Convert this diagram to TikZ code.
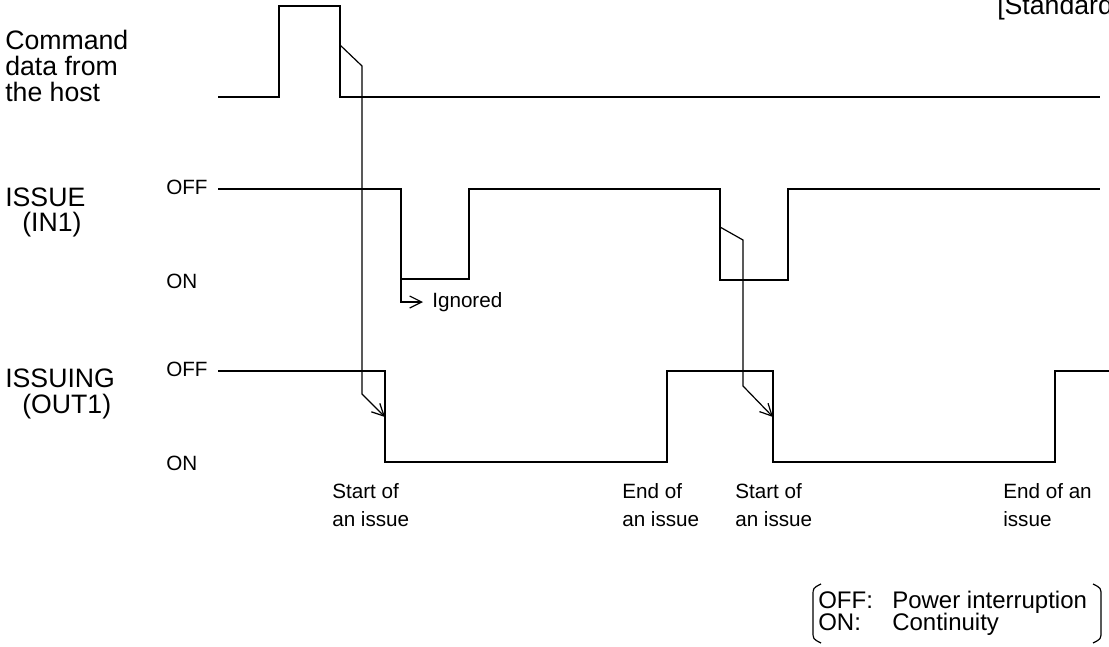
\documentclass[tikz,border=0pt]{standalone}
\usepackage{fontspec}
\setmainfont{Liberation Sans}
\usetikzlibrary{arrows.meta}

\begin{document}
\begin{tikzpicture}[x=0.75pt,y=-0.75pt,
	wave/.style={line width=1.5pt},
	flow/.style={line width=0.9pt,line join=miter,-{Straight Barb[length=9pt,width=9pt,line width=0.9pt]}},
	biglbl/.style={font=\fontsize{20}{19.5}\selectfont,inner sep=0pt,anchor=base west},
	lvl/.style={font=\fontsize{15.5}{18}\selectfont,inner sep=0pt,anchor=base west},
	note/.style={font=\fontsize{15.5}{21}\selectfont,inner sep=0pt,anchor=base west,align=left},
	key/.style={font=\fontsize{18}{19}\selectfont,inner sep=0pt,anchor=base west}]
	\useasboundingbox (0,0) rectangle (1109,646);

	% signals
	\draw[wave](218,97)--(279,97)--(279,6)--(340,6)--(340,97)--(1100,97);
	\draw[wave](218,189)--(401,189)--(401,279)--(469,279)--(469,189)--(720,189)--(720,280)--(788,280)--(788,189)--(1100,189);
	\draw[wave](218,371)--(385,371)--(385,462)--(667,462)--(667,371)--(773,371)--(773,462)--(1055,462)--(1055,371)--(1109,371);

	% points on the edges
	\coordinate (cmdfall) at (340,45);
	\coordinate (infall1) at (401,279);
	\coordinate (infall2) at (720,227);
	\coordinate (outfall1) at (385,417);
	\coordinate (outfall2) at (773,417);
	\coordinate (ign) at (423,302);

	\draw[flow](cmdfall)--(362,66)--(362,394)--(outfall1);
	\draw[flow](infall2)--(743,240)--(743,386)--(outfall2);
	\draw[flow](infall1)--(401,302)--(ign);

	% labels
	\node[biglbl] at (5,49) {Command};
	\node[biglbl] at (5,75) {data from};
	\node[biglbl] at (5,101) {the host};
	\node[biglbl] at (5,206) {ISSUE};
	\node[biglbl] at (22,231) {(IN1)};
	\node[biglbl] at (5,387) {ISSUING};
	\node[biglbl] at (22,413) {(OUT1)};
	\node[biglbl] at (997,14) {[Standard};

	\node[lvl] at (166,194) {OFF};
	\node[lvl] at (166,288) {ON};
	\node[lvl] at (166,376) {OFF};
	\node[lvl] at (166,470) {ON};
	\node[lvl] (ignored) at (432,307) {Ignored};

	\node[note] at (332,526) {Start of\\an issue};
	\node[note] at (622,526) {End of\\an issue};
	\node[note] at (735,526) {Start of\\an issue};
	\node[note] at (1003,526) {End of an\\issue};

	% legend
	\draw[line width=0.9pt](821,584)..controls(813,588)..(813,596)--(813,631)..controls(813,639)..(821,643);
	\draw[line width=0.9pt](1093,584)..controls(1101,588)..(1101,596)--(1101,631)..controls(1101,639)..(1093,643);
	\node[key] at (818,608) {OFF:};
	\node[key] at (818,630) {ON:};
	\node[key] at (892,608) {Power interruption};
	\node[key] at (892,630) {Continuity};
\end{tikzpicture}
\end{document}
